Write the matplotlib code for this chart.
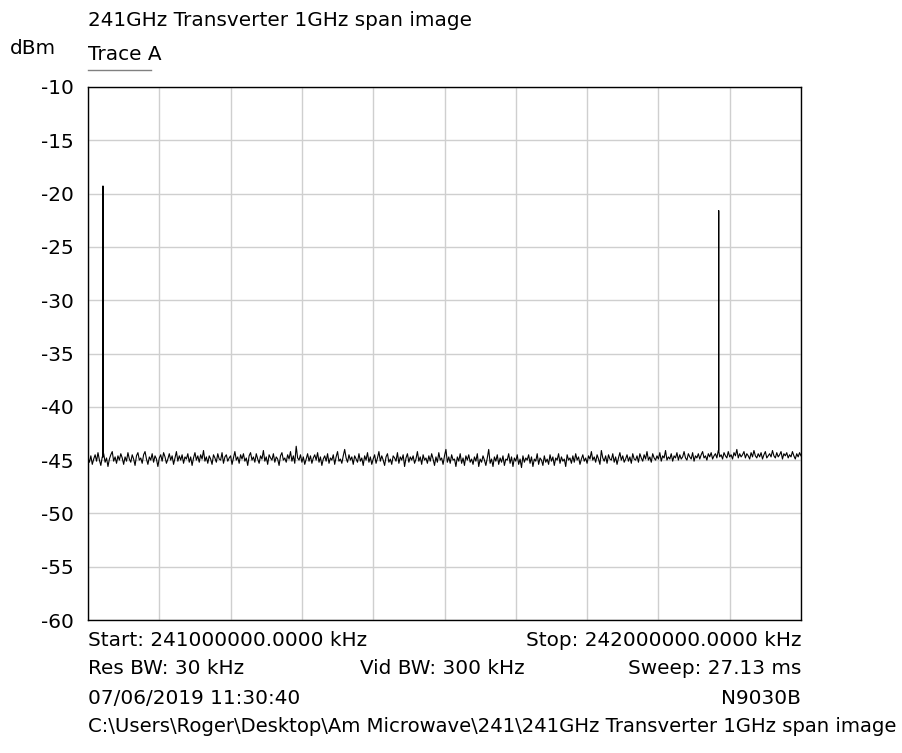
import numpy as np
import matplotlib
matplotlib.use("Agg")
import matplotlib.pyplot as plt

# ---- data ----
start_mhz = 241000.0
stop_mhz = 242000.0
noise_dbm = [
    -44.8, -45.2, -44.6, -45.4, -44.9, -44.5, -45.1, -44.3, -45.0, -45.5,
    -44.7, -44.4, -45.2, -44.8, -45.6, -44.9, -44.5, -44.2, -45.1, -44.7,
    -45.3, -44.6, -45.0, -44.4, -44.8, -45.4, -44.7, -45.1, -44.3, -44.9,
    -45.2, -44.5, -44.9, -45.5, -44.6, -44.3, -45.0, -44.8, -45.3, -44.5,
    -44.2, -44.9, -45.4, -44.7, -45.0, -44.4, -45.2, -44.6, -44.9, -45.6,
    -44.8, -44.5, -45.1, -44.3, -44.7, -45.3, -44.9, -44.4, -45.0, -44.6,
    -45.4, -44.8, -44.2, -45.1, -44.6, -45.0, -44.5, -45.3, -44.7, -44.9,
    -44.4, -45.2, -44.7, -45.5, -44.8, -44.3, -45.0, -44.6, -45.2, -44.5,
    -44.9, -44.1, -45.1, -44.7, -45.3, -44.6, -44.9, -45.4, -44.5, -44.8,
    -45.2, -44.4, -44.9, -45.0, -44.3, -45.3, -44.7, -44.5, -45.1, -44.8,
    -44.6, -45.4, -44.8, -44.2, -45.0, -44.7, -45.3, -44.5, -44.9, -44.4,
    -45.1, -44.8, -45.5, -44.6, -44.3, -45.0, -44.7, -45.2, -44.4, -44.9,
    -45.3, -44.6, -44.9, -44.1, -45.1, -44.7, -45.4, -44.5, -44.8, -45.0,
    -44.4, -45.2, -44.7, -44.9, -45.5, -44.6, -44.3, -45.0, -44.8, -45.2,
    -44.5, -44.9, -44.2, -45.1, -44.6, -45.3, -43.7, -44.8, -45.0, -44.5,
    -45.2, -44.7, -45.4, -44.9, -44.4, -45.1, -44.6, -45.3, -44.8, -44.5,
    -45.0, -44.3, -45.2, -44.7, -45.5, -44.9, -44.6, -45.1, -44.4, -45.3,
    -44.8, -45.0, -44.5, -45.4, -44.7, -44.2, -45.1, -44.9, -45.3, -44.6,
    -44.0, -44.8, -45.2, -44.5, -45.0, -44.7, -45.4, -44.6, -44.9, -45.2,
    -44.4, -45.1, -44.8, -45.5, -44.6, -45.0, -44.3, -45.2, -44.7, -45.4,
    -44.9, -44.5, -45.3, -44.8, -44.2, -45.1, -44.6, -45.0, -45.5, -44.7,
    -44.4, -45.2, -44.9, -45.4, -44.6, -44.8, -45.1, -44.3, -45.3, -44.7,
    -45.0, -44.5, -45.6, -44.8, -44.4, -45.2, -44.7, -45.0, -44.6, -45.3,
    -44.9, -44.2, -45.1, -44.7, -45.4, -44.5, -45.0, -44.8, -45.3, -44.6,
    -45.1, -44.4, -44.9, -45.5, -44.7, -45.2, -44.3, -45.0, -44.8, -45.4,
    -44.6, -44.0, -45.2, -44.7, -45.3, -44.5, -45.0, -44.9, -45.6, -44.7,
    -45.1, -44.4, -45.3, -44.8, -45.5, -44.6, -45.0, -44.5, -45.2, -44.9,
    -45.4, -44.7, -45.1, -44.4, -45.6, -44.9, -45.2, -44.6, -45.0, -45.5,
    -44.8, -44.0, -45.3, -44.9, -45.6, -44.7, -45.1, -44.5, -45.4, -44.8,
    -45.2, -44.6, -45.5, -44.9, -45.0, -44.4, -45.3, -44.7, -45.6, -44.8,
    -45.1, -44.5, -45.4, -44.9, -45.7, -44.6, -45.2, -44.8, -45.0, -44.5,
    -45.3, -44.7, -45.6, -44.9, -45.1, -44.4, -45.4, -44.8, -45.0, -45.5,
    -44.6, -45.2, -44.9, -45.4, -44.5, -45.1, -44.7, -45.5, -44.8, -45.0,
    -44.4, -45.3, -44.7, -45.1, -44.9, -45.6, -44.5, -45.0, -44.8, -45.3,
    -44.6, -45.2, -44.4, -45.0, -44.7, -45.4, -44.9, -44.5, -45.1, -44.8,
    -45.3, -44.6, -44.9, -44.2, -45.0, -44.7, -45.2, -44.5, -44.9, -45.4,
    -44.1, -44.8, -45.1, -44.6, -45.3, -44.5, -44.9, -45.0, -44.4, -45.2,
    -44.7, -45.4, -44.8, -44.3, -45.0, -44.6, -45.2, -44.9, -44.5, -45.1,
    -44.7, -45.3, -44.4, -44.9, -45.0, -44.6, -45.2, -44.4, -44.8, -45.1,
    -44.5, -44.9, -44.2, -45.0, -44.7, -45.2, -44.4, -44.8, -45.0, -44.6,
    -44.9, -44.3, -45.1, -44.6, -44.8, -44.1, -45.0, -44.7, -44.9, -44.4,
    -45.1, -44.6, -44.8, -44.3, -45.0, -44.5, -44.9, -44.7, -44.2, -44.8,
    -45.0, -44.4, -44.7, -44.9, -44.3, -45.1, -44.6, -44.8, -44.4, -44.9,
    -44.5, -44.2, -44.8, -44.6, -45.0, -44.4, -44.7, -44.3, -44.9, -44.6,
    -44.4, -44.8, -44.1, -44.7, -44.5, -44.9, -44.3, -44.6, -44.8, -44.2,
    -44.7, -44.5, -44.9, -44.3, -44.6, -44.0, -44.8, -44.4, -44.7, -44.5,
    -44.2, -44.8, -44.4, -44.6, -44.9, -44.3, -44.7, -44.1, -44.6, -44.8,
    -44.4, -44.7, -44.3, -44.9, -44.5, -44.2, -44.8, -44.6, -44.4, -44.7,
    -44.1, -44.6, -44.8, -44.3, -44.7, -44.5, -44.2, -44.9, -44.4, -44.6,
    -44.3, -44.8, -44.5, -44.7, -44.2, -44.6, -44.9, -44.4, -44.7, -44.3,
    -44.6,
]
peak_mhz = [241021.0, 241884.6]
peak_dbm = [-19.3, -21.6]
y_ticks = [-10, -15, -20, -25, -30, -35, -40, -45, -50, -55, -60]

title_txt = "241GHz Transverter 1GHz span image"
unit_txt = "dBm"
trace_txt = "Trace A"
info_lines = [
    ("Start: 241000000.0000 kHz", "Stop: 242000000.0000 kHz", None),
    ("Res BW: 30 kHz", "Sweep: 27.13 ms", "Vid BW: 300 kHz"),
    ("07/06/2019 11:30:40", "N9030B", None),
]
path_txt = "C:\\Users\\Roger\\Desktop\\Am Microwave\\241\\241GHz Transverter 1GHz span image"

# ---- build trace ----
noise = np.array(noise_dbm)
freq = np.linspace(start_mhz, stop_mhz, len(noise))
fx = list(freq)
fy = list(noise)
for pf, pl in zip(peak_mhz, peak_dbm):
    base = noise[np.argmin(np.abs(freq - pf))]
    fx += [pf, pf, pf]
    fy += [base, pl, base]
fx = np.array(fx)
fy = np.array(fy)
order = np.argsort(fx, kind="stable")
fx, fy = fx[order], fy[order]

# ---- figure ----
W, H = 902, 753
plt.rcParams["font.family"] = ["DejaVu Sans"]
FS = 14.4
fig = plt.figure(figsize=(W / 100, H / 100), dpi=100)
L, R, T, B = 88, 801, 87, 620
ax = fig.add_axes([L / W, 1 - B / H, (R - L) / W, (B - T) / H])
ax.plot(fx, fy, color="black", lw=0.8)
ax.set_xlim(start_mhz, stop_mhz)
ax.set_ylim(-60, -10)
ax.set_xticks(np.linspace(start_mhz, stop_mhz, 11))
ax.set_xticklabels([])
ax.set_yticks(y_ticks)
ax.set_yticklabels([str(v) for v in y_ticks], fontsize=FS)
ax.tick_params(length=0, pad=10)
ax.grid(True, color="#cfcfcf", lw=1.0)
ax.set_axisbelow(True)
for s in ax.spines.values():
    s.set_color("black")
    s.set_linewidth(1.0)


def px(x, y):
    return x / W, 1 - y / H


fig.text(*px(88, 21), title_txt, fontsize=FS, va="center", ha="left")
fig.text(*px(10, 49), unit_txt, fontsize=FS, va="center", ha="left")
fig.text(*px(88, 54), trace_txt, fontsize=FS, va="center", ha="left")
fig.add_artist(plt.Line2D([88 / W, 151 / W], [1 - 70 / H, 1 - 70 / H],
                          color="#808080", lw=1.0))

ys = [640, 669, 698]
for (lt, rt, mt), yy in zip(info_lines, ys):
    fig.text(*px(88, yy), lt, fontsize=FS, va="center", ha="left")
    fig.text(*px(801, yy), rt, fontsize=FS, va="center", ha="right")
    if mt:
        fig.text(*px(360, yy), mt, fontsize=FS, va="center", ha="left")
fig.text(*px(88, 727), path_txt, fontsize=14.1, va="center", ha="left")

fig.savefig("out.png", dpi=100)
